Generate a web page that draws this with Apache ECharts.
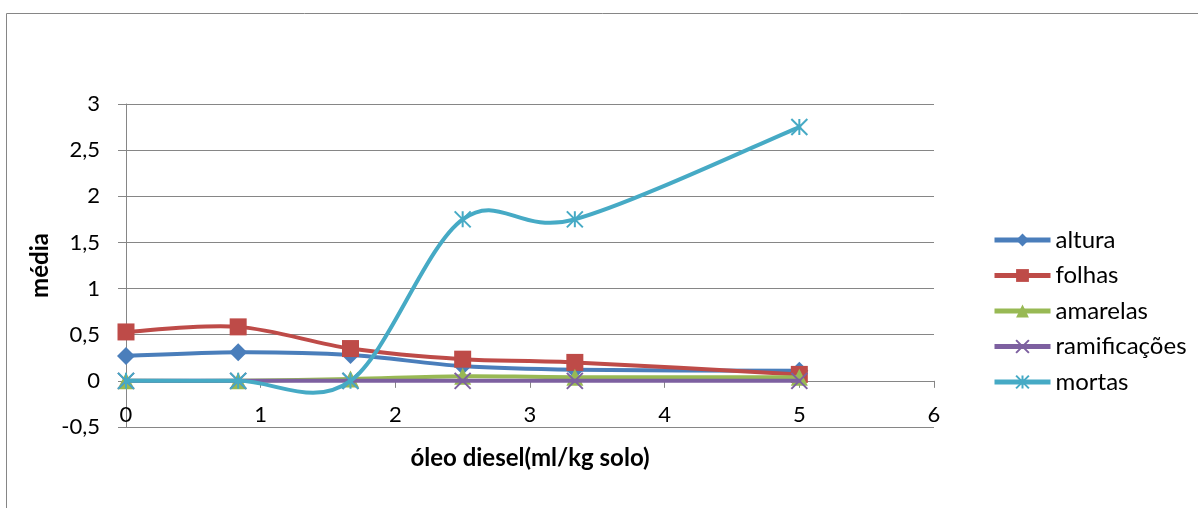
<!DOCTYPE html>
<html>
<head>
<meta charset="utf-8">
<script src="https://cdn.jsdelivr.net/npm/echarts@6/dist/echarts.min.js"></script>
<style>html,body{margin:0;padding:0;background:#fff}#c{width:1198px;height:508px}</style>
</head>
<body>
<div id="c"></div>
<script>
const xValues = [0, 0.833, 1.667, 2.5, 3.333, 5];
const altura = [0.27, 0.31, 0.28, 0.16, 0.12, 0.11];
const folhas = [0.53, 0.585, 0.35, 0.235, 0.2, 0.07];
const amarelas = [0, 0, 0.02, 0.05, 0.04, 0.04];
const ramificacoes = [0, 0, 0, 0, 0, 0];
const mortas = [0, 0, 0, 1.75, 1.75, 2.75];
const seriesNames = ['altura', 'folhas', 'amarelas', 'ramificações', 'mortas'];
const seriesColors = ['#4A7EBB', '#BE4B48', '#98B954', '#7D60A0', '#46AAC5'];
const xTitle = 'óleo diesel(ml/kg solo)';
const yTitle = 'média';

const FONT = 'Lato';
const allData = [altura, folhas, amarelas, ramificacoes, mortas];
const symbols = [
  'diamond', 'rect', 'triangle',
  'path://M0,0L10,10M10,0L0,10',
  'path://M5,0L5,10M0,0L10,10M10,0L0,10'
];
const sizes = [18, 17, 17, 16, 16];

// Excel-style smoothed curve (cubic Bezier with 1/6 tangents),
// drawn through the chart's own coordinate system.
function curveRenderer(values, color) {
  return function (params, api) {
    const pts = xValues.map((x, j) => api.coord([x, values[j]]));
    const children = [];
    for (let i = 0; i < pts.length - 1; i++) {
      const p0 = pts[i - 1] || pts[i];
      const p1 = pts[i];
      const p2 = pts[i + 1];
      const p3 = pts[i + 2] || pts[i + 1];
      children.push({
        type: 'bezierCurve',
        shape: {
          x1: p1[0], y1: p1[1], x2: p2[0], y2: p2[1],
          cpx1: p1[0] + (p2[0] - p0[0]) / 6, cpy1: p1[1] + (p2[1] - p0[1]) / 6,
          cpx2: p2[0] - (p3[0] - p1[0]) / 6, cpy2: p2[1] - (p3[1] - p1[1]) / 6
        },
        style: { stroke: color, lineWidth: 4, fill: 'none', lineCap: 'round', lineJoin: 'round' }
      });
    }
    return { type: 'group', children: children };
  };
}

const series = [];
seriesNames.forEach((name, i) => {
  series.push({
    name: '_curve_' + i,
    type: 'custom',
    z: 2 + i * 2,
    silent: true,
    renderItem: curveRenderer(allData[i], seriesColors[i]),
    data: [[0, 0]]
  });
  series.push({
    name: name,
    type: 'line',
    z: 3 + i * 2,
    smooth: false,
    data: xValues.map((x, j) => [x, allData[i][j]]),
    symbol: symbols[i],
    symbolSize: sizes[i],
    showAllSymbol: true,
    color: seriesColors[i],
    lineStyle: { width: 4, color: seriesColors[i], opacity: 0 },
    itemStyle: i >= 3
      ? { color: seriesColors[i], borderColor: seriesColors[i], borderWidth: 2 }
      : { color: seriesColors[i], borderWidth: 0 }
  });
});

const chart = echarts.init(document.getElementById('c'));
chart.setOption({
  animation: false,
  textStyle: { fontFamily: FONT },
  graphic: [{
    type: 'rect', left: 4, top: 11, silent: true,
    shape: { width: 1400, height: 700 },
    style: { fill: 'none', stroke: '#868686', lineWidth: 1 }
  }],
  grid: { left: 126, right: 264, top: 104, bottom: 81, outerBoundsMode: 'none', containLabel: false },
  legend: {
    orient: 'vertical', left: 987, top: 223,
    itemWidth: 56, itemHeight: 16, itemGap: 11.5,
    textStyle: { fontFamily: FONT, fontSize: 24, color: '#000' },
    data: seriesNames.map((n, i) => ({
      name: n,
      lineStyle: { opacity: 1, width: 5, color: seriesColors[i] }
    }))
  },
  xAxis: {
    type: 'value', min: 0, max: 6, interval: 1,
    name: xTitle, nameLocation: 'middle', nameGap: 19, nameMoveOverlap: false,
    nameTextStyle: { fontFamily: FONT, fontSize: 24, fontWeight: 'bold', color: '#000' },
    axisLine: { onZero: true, lineStyle: { color: '#868686', width: 1 } },
    axisTick: { show: true, length: 7, lineStyle: { color: '#868686' } },
    axisLabel: { margin: -23, fontFamily: FONT, fontSize: 22, color: '#000' },
    splitLine: { show: false }
  },
  yAxis: {
    type: 'value', min: -0.5, max: 3, interval: 0.5,
    name: yTitle, nameLocation: 'middle', nameGap: 74, nameMoveOverlap: false,
    nameTextStyle: { fontFamily: FONT, fontSize: 24, fontWeight: 'bold', color: '#000' },
    axisLine: { show: true, onZero: false, lineStyle: { color: '#868686', width: 1 } },
    axisTick: { show: true, length: 8, lineStyle: { color: '#868686' } },
    axisLabel: { margin: 26, fontFamily: FONT, fontSize: 22, color: '#000',
      formatter: v => String(v).replace('.', ',') },
    splitLine: { show: true, lineStyle: { color: '#868686', width: 1 } }
  },
  series: series
});
</script>
</body>
</html>
